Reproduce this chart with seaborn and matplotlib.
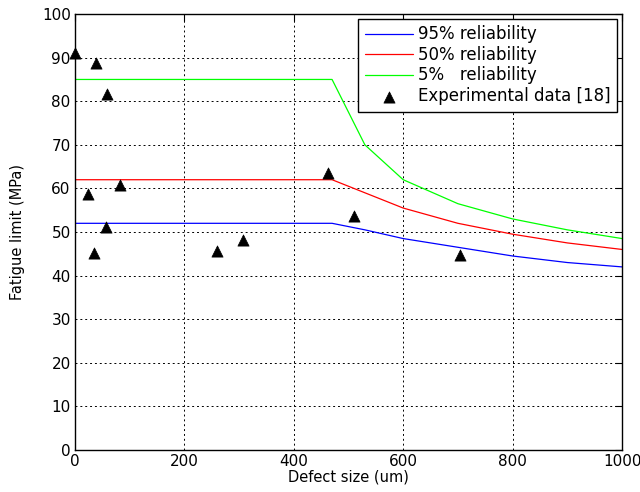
import matplotlib
matplotlib.use("Agg")
import matplotlib.pyplot as plt
import seaborn as sns
import pandas as pd

# Data
curve_x = [0, 470, 530, 600, 700, 800, 900, 1000]
rel95 = [52, 52, 50.5, 48.5, 46.5, 44.5, 43, 42]
rel50 = [62, 62, 59, 55.5, 52, 49.5, 47.5, 46]
rel5 = [85, 85, 70, 62, 56.5, 53, 50.5, 48.5]

exp_x = [0, 38, 58, 24, 82, 35, 57, 260, 307, 463, 510, 704]
exp_y = [91, 88.7, 81.6, 58.7, 60.8, 45.2, 51.1, 45.6, 48.2, 63.6, 53.7, 44.7]

x_ticks = [0, 200, 400, 600, 800, 1000]
y_ticks = [0, 10, 20, 30, 40, 50, 60, 70, 80, 90, 100]

sns.set_style("white")
plt.rcParams['font.family'] = ['DejaVu Sans']
plt.rcParams.update({'text.color': 'black', 'axes.labelcolor': 'black',
                     'xtick.color': 'black', 'ytick.color': 'black'})

fig = plt.figure(figsize=(6.4, 4.92), dpi=100)
ax = fig.add_axes([0.117, 0.0854, 0.855, 0.886])

sns.lineplot(x=curve_x, y=rel95, ax=ax, color='#0000ff', lw=0.9, label='95% reliability')
sns.lineplot(x=curve_x, y=rel50, ax=ax, color='#ff0000', lw=0.9, label='50% reliability')
sns.lineplot(x=curve_x, y=rel5, ax=ax, color='#00ff00', lw=0.9, label='5%   reliability')
sns.scatterplot(x=exp_x, y=exp_y, ax=ax, marker='^', color='black', s=65,
                edgecolor='black', linewidth=0.5, label='Experimental data [18]', zorder=5, clip_on=False)

ax.set_xlim(0, 1000)
ax.set_ylim(0, 100)
ax.set_xticks(x_ticks)
ax.set_yticks(y_ticks)
ax.set_xlabel('Defect size (um)', fontsize=10.5, labelpad=0)
ax.set_ylabel('Fatigue limit (MPa)', fontsize=10.5, labelpad=12)
ax.tick_params(direction='in', length=5, labelsize=11, top=True, right=True, width=0.8, pad=3)
ax.grid(True, color='black', linestyle=(0, (2, 3)), linewidth=0.7)
for s in ax.spines.values():
    s.set_color('black')
    s.set_linewidth(1.0)

leg = ax.legend(loc='upper right', fontsize=12, frameon=True, fancybox=False,
                edgecolor='black', framealpha=1, borderpad=0.4, labelspacing=0.15,
                handlelength=2.9, handletextpad=0.3, borderaxespad=0.28)
leg.get_frame().set_linewidth(1.0)

fig.savefig('out.png', dpi=100)
